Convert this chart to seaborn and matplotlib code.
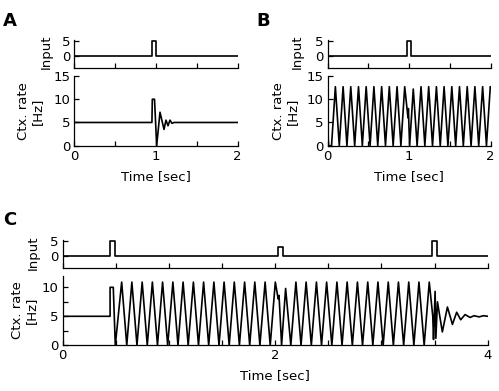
#!/bin/env -S python3

# Cortical rate response to input pulses (panels A, B, C)

import matplotlib
matplotlib.use("Agg")
import matplotlib.pyplot as plt
import seaborn as sns
from matplotlib.ticker import MultipleLocator


W, H = 499, 391

# ---- panel A ----
A_IN_T = [0, 0.95, 0.95, 1.0, 1.0, 2.0]
A_IN = [0, 0, 5, 5, 0, 0]
A_T = [0, 0.95, 0.955, 0.982, 1.008, 1.049, 1.098, 1.122, 1.147, 1.171, 1.196, 1.22, 2.0]
A_RATE = [5, 5, 10, 10, 0, 7.2, 3.5, 5.5, 4.3, 5.5, 4.8, 5.0, 5.0]

# ---- panel B ----
B_IN_T = [0, 0.975, 0.975, 1.025, 1.025, 2.0]
B_IN = [0, 0, 5, 5, 0, 0]
B_T = [0, 0.01, 0.047, 0.094, 0.142, 0.189, 0.236, 0.283, 0.331, 0.378,
       0.425, 0.472, 0.520, 0.567, 0.614, 0.662, 0.709, 0.756, 0.803, 0.851,
       0.898, 0.945, 0.985, 0.99, 1.005, 1.050, 1.097, 1.145, 1.192, 1.239,
       1.286, 1.334, 1.381, 1.428, 1.475, 1.523, 1.570, 1.617, 1.664, 1.712,
       1.759, 1.806, 1.853, 1.901, 1.948, 1.995, 2.0]
B_RATE = [4.8, 0, 0, 12.7, 0, 12.7, 0, 12.7, 0, 12.7,
          0, 12.7, 0, 12.7, 0, 12.7, 0, 12.7, 0, 12.7,
          0, 12.7, 6.0, 8.0, 0, 12.2, 0, 12.7, 0, 12.7,
          0, 12.7, 0, 12.7, 0, 12.7, 0, 12.7, 0, 12.7,
          0, 12.7, 0, 12.7, 0, 12.7, 12.6]

# ---- panel C ----
C_IN_T = [0, 0.446, 0.446, 0.493, 0.493, 2.023, 2.023, 2.07, 2.07,
          3.476, 3.476, 3.52, 3.52, 4.0]
C_IN = [0, 0, 5, 5, 0, 0, 3, 3, 0, 0, 5, 5, 0, 0]
C_T = [0, 0.446, 0.446, 0.476, 0.495,
       0.555, 0.603, 0.651, 0.699, 0.748, 0.796, 0.844, 0.892, 0.940, 0.988,
       1.037, 1.085, 1.133, 1.181, 1.230, 1.278, 1.326, 1.374, 1.423, 1.471,
       1.519, 1.567, 1.615, 1.663, 1.712, 1.760, 1.808, 1.856, 1.905, 1.953,
       2.001,
       2.028, 2.036, 2.052, 2.060,
       2.098, 2.147, 2.195, 2.243, 2.291, 2.340, 2.388, 2.436, 2.484, 2.533,
       2.581, 2.629, 2.677, 2.726, 2.774, 2.822, 2.871, 2.919, 2.967, 3.016,
       3.064, 3.112, 3.160, 3.209, 3.257, 3.305, 3.353, 3.402, 3.450,
       3.483, 3.490, 3.505, 3.512, 3.527, 3.573, 3.621, 3.668, 3.708, 3.746,
       3.787, 3.834, 3.872, 3.919, 3.960, 4.0]
C_RATE = [5, 5, 10, 10, 0,
          10.9, 0, 10.9, 0, 10.9, 0, 10.9, 0, 10.9, 0,
          10.9, 0, 10.9, 0, 10.9, 0, 10.9, 0, 10.9, 0,
          10.9, 0, 10.9, 0, 10.9, 0, 10.9, 0, 10.9, 0,
          10.9,
          8.0, 8.6, 3.0, 0,
          9.8, 0, 10.9, 0, 10.9, 0, 10.9, 0, 10.9, 0,
          10.9, 0, 10.9, 0, 10.9, 0, 10.9, 0, 10.9, 0,
          10.9, 0, 10.9, 0, 10.9, 0, 10.9, 0, 10.9,
          5.0, 1.0, 9.3, 1.2, 7.5, 2.3, 6.6, 3.6, 5.7, 4.4,
          5.3, 4.8, 5.1, 4.9, 5.1, 5.0]

FS = 9.5


def rect(x0, y0, x1, y1):
    # pixel box (top-left origin) -> figure fraction
    return [x0 / W, 1 - y1 / H, (x1 - x0) / W, (y1 - y0) / H]


def style(ax, xmax, xmajor, ylim, ymajor, yminor=None):
    sns.despine(ax=ax)
    for s in ("left", "bottom"):
        ax.spines[s].set_linewidth(0.9)
        ax.spines[s].set_color("black")
    ax.set_xlim(0, xmax)
    ax.set_ylim(*ylim)
    ax.xaxis.set_major_locator(MultipleLocator(xmajor))
    ax.xaxis.set_minor_locator(MultipleLocator(0.5))
    ax.yaxis.set_major_locator(MultipleLocator(ymajor))
    if yminor:
        ax.yaxis.set_minor_locator(MultipleLocator(yminor))
    ax.tick_params(which="both", direction="in", length=3.5, width=0.9,
                   bottom=True, left=True, labelsize=FS, pad=3,
                   colors="black")
    ax.set_xlabel("")
    ax.set_ylabel("")


def panel(fig, x0, x1, in_y, rate_y, in_t, in_v, t, rate, xmax, xmajor,
          rate_lim, rate_minor, in_off, rate_off):
    ax_in = fig.add_axes(rect(x0, in_y[0], x1, in_y[1]))
    sns.lineplot(x=in_t, y=in_v, ax=ax_in, sort=False, estimator=None,
                 color="black", lw=1.2)
    style(ax_in, xmax, xmajor, (-4, 5.4), 5)
    ax_in.set_yticks([0, 5])
    ax_in.tick_params(axis="x", labelbottom=False)
    ax_in.set_ylabel("Input", fontsize=FS)
    ax_in.yaxis.set_label_coords(in_off / (x1 - x0), 0.55)

    ax_r = fig.add_axes(rect(x0, rate_y[0], x1, rate_y[1]))
    sns.lineplot(x=t, y=rate, ax=ax_r, sort=False, estimator=None,
                 color="black", lw=1.2)
    style(ax_r, xmax, xmajor, rate_lim, 5, rate_minor)
    ax_r.set_ylabel("Ctx. rate\n[Hz]", fontsize=FS, linespacing=1.1)
    ax_r.yaxis.set_label_coords(rate_off / (x1 - x0), 0.5)
    ax_r.set_xlabel("Time [sec]", fontsize=FS, labelpad=5)
    return ax_in, ax_r


def main() -> None:
    sns.set_style("ticks")
    plt.rcParams["font.family"] = ["DejaVu Sans"]
    plt.rcParams["text.color"] = "black"
    plt.rcParams["axes.labelcolor"] = "black"

    fig = plt.figure(figsize=(W / 100, H / 100), dpi=100)

    panel(fig, 74.3, 237.7, (39.5, 67.7), (76, 145.7), A_IN_T, A_IN,
          A_T, A_RATE, 2, 1, (0, 15), None, -22, -30)
    panel(fig, 327.7, 490.7, (39.5, 67.7), (76, 145.7), B_IN_T, B_IN,
          B_T, B_RATE, 2, 1, (0, 15), None, -24, -29)
    panel(fig, 62.7, 487.7, (239.5, 268), (275.7, 345.3), C_IN_T, C_IN,
          C_T, C_RATE, 4, 2, (0, 12), 2.5, -23, -25)

    for x, y, s in [(10, 21, "A"), (263, 21, "B"), (10, 220, "C")]:
        fig.text(x / W, 1 - y / H, s, fontsize=13, fontweight="bold",
                 ha="center", va="center", color="black")

    fig.savefig("out.png", dpi=100)
    plt.close(fig)


if __name__ == "__main__":
    main()
